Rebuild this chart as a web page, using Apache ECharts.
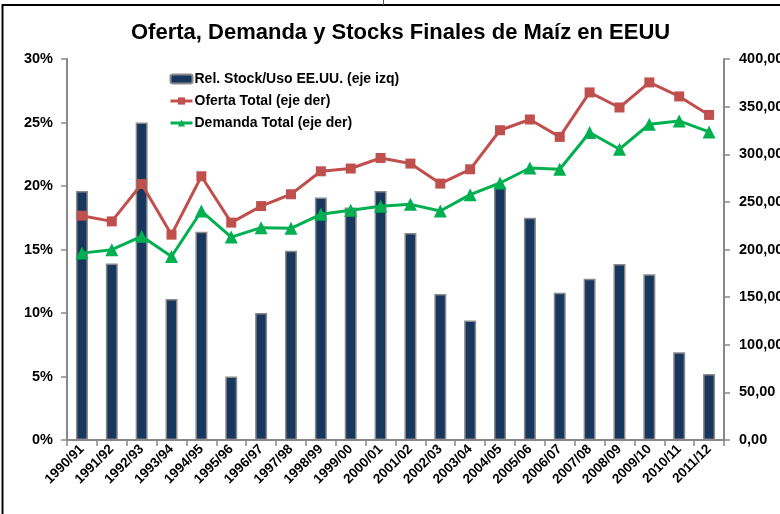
<!DOCTYPE html>
<html>
<head>
    <meta charset="utf-8">
    <title>Oferta, Demanda y Stocks Finales de Maíz en EEUU</title>
    <script src="https://cdn.jsdelivr.net/npm/echarts@6/dist/echarts.min.js"></script>
    <style>
        html,body{
            height:100%;
            width:100%;
            margin:0;
            padding:0;
            background:#fff;
            overflow:hidden;
        }
        #chart{
            width:780px;
            height:514px;
        }
    </style>
</head>
<body>
<div id="chart"></div>
<script>
    // campañas
    var campanas = ['1990/91','1991/92','1992/93','1993/94','1994/95','1995/96','1996/97','1997/98',
        '1998/99','1999/00','2000/01','2001/02','2002/03','2003/04','2004/05','2005/06',
        '2006/07','2007/08','2008/09','2009/10','2010/11','2011/12'];
    // relación stock/uso (%), eje izquierdo
    var stockUso = [19.6, 13.9, 25.0, 11.1, 16.4, 5.0, 10.0, 14.9, 19.1, 18.3, 19.6,
        16.3, 11.5, 9.4, 19.9, 17.5, 11.6, 12.7, 13.85, 13.05, 6.9, 5.2];
    // oferta total, eje derecho
    var oferta = [235.5, 229.5, 268.8, 215.6, 276.9, 228.2, 245.6, 258.0, 282.1, 285.0, 296.1,
        290.2, 269.2, 284.2, 325.2, 336.5, 318.2, 364.9, 349.1, 375.4, 360.7, 341.3];
    // demanda total, eje derecho
    var demanda = [196.2, 199.8, 213.8, 192.7, 240.4, 213.0, 222.9, 222.2, 236.9, 241.1, 245.3,
        247.4, 240.4, 257.6, 269.8, 285.6, 284.2, 322.8, 305.3, 331.5, 335.0, 323.4];

    var fuente = 'Liberation Sans';
    var gris = '#898989';

    var myChart = echarts.init(document.getElementById('chart'));

    var option = {
        animation:false,
        textStyle:{ fontFamily:fuente },
        title:{
            text:'Oferta, Demanda y Stocks Finales de Maíz en EEUU',
            left:131,
            top:22,
            padding:0,
            textStyle:{
                fontFamily:fuente,
                fontSize:22,
                fontWeight:'bold',
                color:'#000'
            }
        },
        // marco de la figura
        graphic:[
            {
                type:'rect',
                shape:{ x:2.5, y:5, width:800, height:540 },
                style:{ fill:'none', stroke:'#000', lineWidth:2 },
                silent:true
            },
            {
                type:'line',
                shape:{ x1:383.5, y1:0, x2:383.5, y2:5 },
                style:{ stroke:'#555', lineWidth:1 },
                silent:true
            }
        ],
        legend:{
            orient:'vertical',
            left:169,
            top:72,
            padding:0,
            itemWidth:22,
            itemHeight:9,
            itemGap:8,
            lineStyle:{ width:3 },
            textStyle:{
                fontFamily:fuente,
                fontSize:14,
                fontWeight:'bold',
                color:'#000',
                padding:[0,0,0,-3]
            },
            data:['Rel. Stock/Uso EE.UU. (eje izq)','Oferta Total (eje der)','Demanda Total (eje der)']
        },
        grid:{
            left:67,
            right:56,
            top:59,
            bottom:74,
            outerBoundsMode:'none'
        },
        xAxis:{
            type:'category',
            data:campanas,
            axisLine:{ lineStyle:{ color:gris, width:2 } },
            axisTick:{ show:true, length:6, lineStyle:{ color:gris, width:1.5 } },
            axisLabel:{
                rotate:45,
                margin:7,
                interval:0,
                fontFamily:fuente,
                fontSize:13.5,
                fontWeight:'bold',
                color:'#000'
            },
            splitLine:{ show:false }
        },
        yAxis:[
            {
                type:'value',
                min:0,
                max:30,
                interval:5,
                position:'left',
                axisLine:{ show:true, lineStyle:{ color:gris, width:2 } },
                axisTick:{ show:true, length:6, lineStyle:{ color:gris, width:1.5 } },
                axisLabel:{
                    margin:14,
                    formatter:'{value}%',
                    fontFamily:fuente,
                    fontSize:14.5,
                    fontWeight:'bold',
                    color:'#000'
                },
                splitLine:{ show:false }
            },
            {
                type:'value',
                min:0,
                max:400,
                interval:50,
                position:'right',
                axisLine:{ show:true, lineStyle:{ color:gris, width:2 } },
                axisTick:{ show:true, length:6, lineStyle:{ color:gris, width:1.5 } },
                axisLabel:{
                    margin:15,
                    formatter:function (v) { return v.toFixed(2).replace('.', ','); },
                    fontFamily:fuente,
                    fontSize:14.5,
                    fontWeight:'bold',
                    color:'#000'
                },
                splitLine:{ show:false }
            }
        ],
        series:[
            {
                name:'Rel. Stock/Uso EE.UU. (eje izq)',
                type:'bar',
                yAxisIndex:0,
                barWidth:12,
                itemStyle:{
                    color:'#17375E',
                    borderColor:'#8a8a8a',
                    borderWidth:1.5
                },
                data:stockUso
            },
            {
                name:'Oferta Total (eje der)',
                type:'line',
                yAxisIndex:1,
                symbol:'rect',
                symbolSize:10,
                lineStyle:{ color:'#C0504D', width:3 },
                itemStyle:{ color:'#C0504D' },
                data:oferta
            },
            {
                name:'Demanda Total (eje der)',
                type:'line',
                yAxisIndex:1,
                symbol:'triangle',
                symbolSize:13,
                lineStyle:{ color:'#00B050', width:3 },
                itemStyle:{ color:'#00B050' },
                data:demanda
            }
        ]
    };

    myChart.setOption(option);
</script>
</body>
</html>
